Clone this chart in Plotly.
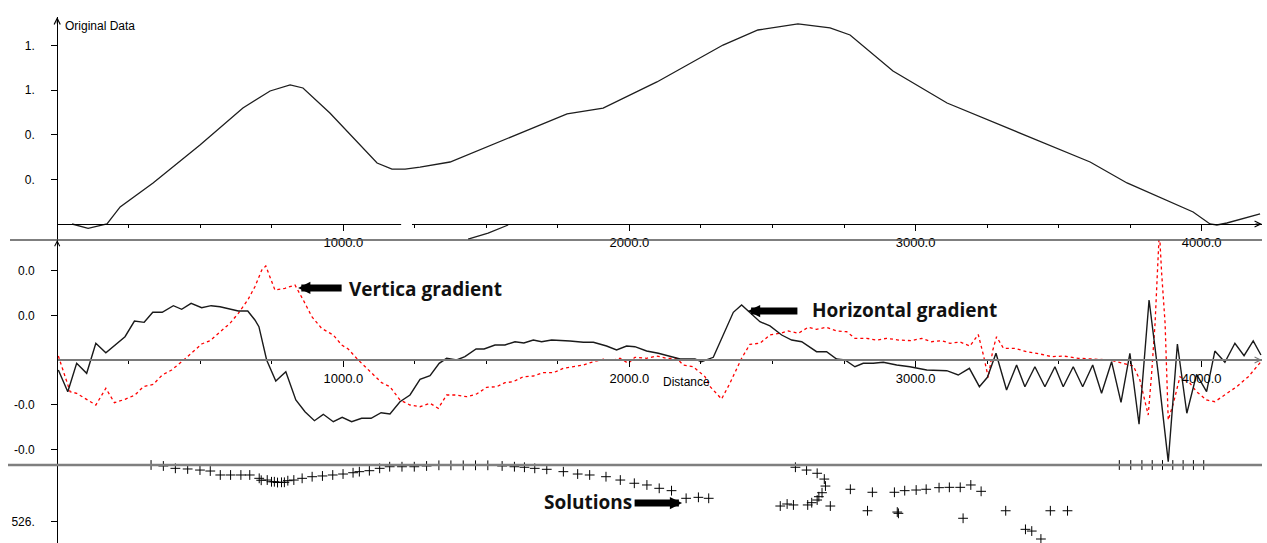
import plotly.graph_objects as go

# ---------------- data ----------------
# Original data profile (distance, value)
orig_x = [52, 108, 174, 220, 335, 499, 649, 744, 814, 859,
          953, 1118, 1170, 1216, 1268, 1373, 1782, 1908, 2096, 2327,
          2449, 2589, 2701, 2771, 2921, 3110, 3610, 3739, 3970, 4029,
          4053, 4088, 4204]
orig_y = [0.000, -0.039, 0.000, 0.153, 0.368, 0.709, 1.040, 1.193, 1.247, 1.220,
          0.996, 0.547, 0.493, 0.493, 0.511, 0.556, 0.987, 1.040, 1.274, 1.605,
          1.740, 1.794, 1.758, 1.695, 1.372, 1.085, 0.556, 0.368, 0.108, 0.000,
          -0.009, 0.009, 0.090]

# short fragment below the top axis
frag_x = [1436, 1506, 1576]
frag_y = [-0.135, -0.081, -0.009]

# Horizontal gradient (black solid)
hg_x = [4, 37, 68, 103, 135, 170, 237, 270, 304, 334,
        367, 406, 435, 468, 505, 538, 569, 633, 666, 691,
        705, 732, 764, 799, 834, 866, 899, 930, 965, 996,
        1029, 1064, 1097, 1132, 1163, 1198, 1233, 1268, 1303, 1335,
        1361, 1396, 1425, 1464, 1492, 1530, 1565, 1600, 1631, 1664,
        1693, 1728, 1792, 1839, 1874, 1920, 1955, 1990, 2019, 2060,
        2101, 2142, 2177, 2229, 2252, 2293, 2328, 2363, 2392, 2421,
        2456, 2491, 2532, 2567, 2602, 2654, 2689, 2724, 2753, 2788,
        2817, 2852, 2887, 2934, 2980, 3039, 3109, 3149, 3188, 3223,
        3251, 3281, 3318, 3353, 3382, 3417, 3452, 3487, 3516, 3551,
        3584, 3619, 3650, 3685, 3718, 3749, 3781, 3816, 3848, 3883,
        3915, 3948, 3982, 4017, 4046, 4081, 4116, 4148, 4180, 4207]
hg_y = [-0.00224, -0.00709, -0.00074, -0.00298, 0.00374, 0.00163, 0.00521, 0.00872, 0.00843, 0.01067,
        0.01067, 0.01215, 0.01134, 0.01268, 0.01170, 0.01215, 0.01192, 0.01096, 0.01096, 0.00895,
        0.00745, 0.00000, -0.00470, -0.00262, -0.00895, -0.01157, -0.01358, -0.01215, -0.01380, -0.01282,
        -0.01380, -0.01304, -0.01304, -0.01179, -0.01208, -0.00933, -0.00783, -0.00432, -0.00351, -0.00074,
        0.00038, 0.00000, 0.00074, 0.00246, 0.00246, 0.00336, 0.00336, 0.00409, 0.00380, 0.00447,
        0.00409, 0.00447, 0.00425, 0.00396, 0.00396, 0.00313, 0.00224, 0.00313, 0.00298, 0.00201,
        0.00150, 0.00074, 0.00022, 0.00022, -0.00038, 0.00060, 0.00559, 0.01067, 0.01230, 0.01067,
        0.00857, 0.00761, 0.00559, 0.00447, 0.00409, 0.00186, 0.00186, 0.00022, 0.00000, -0.00150,
        -0.00074, -0.00074, -0.00051, -0.00112, -0.00150, -0.00224, -0.00239, -0.00336, -0.00186, -0.00597,
        -0.00387, 0.00150, -0.00671, -0.00112, -0.00597, -0.00150, -0.00597, -0.00150, -0.00597, -0.00150,
        -0.00597, -0.00112, -0.00745, -0.00038, -0.00946, 0.00150, -0.01438, 0.01342, -0.00298, -0.02275,
        0.00358, -0.01192, -0.00320, -0.00709, 0.00201, -0.00051, 0.00374, 0.00096, 0.00425, 0.00112]

# Vertical gradient (red dotted)
vg_x = [4, 45, 68, 97, 135, 170, 200, 237, 272, 301,
        336, 367, 400, 435, 470, 505, 534, 569, 604, 633,
        666, 691, 715, 729, 761, 796, 831, 860, 890, 924,
        965, 994, 1017, 1052, 1093, 1134, 1163, 1198, 1233, 1268,
        1303, 1332, 1361, 1396, 1431, 1466, 1501, 1536, 1565, 1594,
        1629, 1664, 1699, 1734, 1769, 1804, 1839, 1874, 1909, 1944,
        1967, 1996, 2019, 2060, 2095, 2130, 2165, 2188, 2223, 2264,
        2282, 2322, 2351, 2392, 2421, 2456, 2491, 2526, 2555, 2590,
        2625, 2654, 2689, 2724, 2759, 2788, 2829, 2864, 2899, 2940,
        2986, 3021, 3056, 3091, 3120, 3155, 3190, 3219, 3237, 3254,
        3270, 3283, 3307, 3347, 3388, 3435, 3476, 3516, 3569, 3621,
        3679, 3726, 3761, 3784, 3802, 3813, 3825, 3837, 3845, 3852,
        3860, 3872, 3883, 3901, 3924, 3959, 3982, 4017, 4046, 4081,
        4122, 4163, 4207]
vg_y = [0.00089, -0.00709, -0.00745, -0.00857, -0.01007, -0.00633, -0.00955, -0.00879, -0.00783, -0.00597,
        -0.00544, -0.00336, -0.00224, -0.00038, 0.00150, 0.00358, 0.00432, 0.00633, 0.00821, 0.01045,
        0.01342, 0.01640, 0.02013, 0.02103, 0.01566, 0.01604, 0.01678, 0.01342, 0.00969, 0.00709,
        0.00559, 0.00336, 0.00246, 0.00000, -0.00262, -0.00508, -0.00597, -0.00895, -0.01007, -0.01045,
        -0.00969, -0.01081, -0.00783, -0.00783, -0.00821, -0.00761, -0.00611, -0.00597, -0.00508, -0.00485,
        -0.00374, -0.00358, -0.00284, -0.00284, -0.00186, -0.00150, -0.00112, -0.00038, 0.00016, 0.00000,
        0.00038, -0.00074, 0.00060, 0.00038, 0.00089, 0.00038, 0.00038, -0.00112, -0.00150, -0.00374,
        -0.00597, -0.00872, -0.00521, 0.00038, 0.00351, 0.00374, 0.00559, 0.00597, 0.00649, 0.00597,
        0.00732, 0.00687, 0.00732, 0.00649, 0.00633, 0.00485, 0.00485, 0.00447, 0.00485, 0.00447,
        0.00432, 0.00485, 0.00409, 0.00432, 0.00374, 0.00403, 0.00313, 0.00570, 0.00112, -0.00391,
        0.00224, 0.00521, 0.00262, 0.00262, 0.00186, 0.00134, 0.00074, 0.00089, 0.00038, 0.00022,
        0.00000, -0.00074, -0.00134, -0.00447, -0.00895, -0.01230, -0.00298, 0.00821, 0.01940, 0.02900,
        0.01940, 0.00821, -0.01342, -0.00969, -0.00374, -0.00521, -0.00709, -0.00895, -0.00933, -0.00783,
        -0.00597, -0.00374, -0.00038]

# Euler solutions (distance, depth)
sol_x = [328, 371, 413, 456, 499, 535, 570, 606, 642, 673,
         706, 713, 734, 749, 759, 770, 784, 794, 806, 827,
         856, 891, 927, 963, 999, 1034, 1056, 1091, 1127, 1162,
         1205, 1248, 1291, 1334, 1376, 1419, 1462, 1505, 1555, 1598,
         1633, 1669, 1711, 1769, 1819, 1861, 1918, 1968, 2017, 2061,
         2104, 2147, 2198, 2241, 2277,
         2580, 2619, 2656, 2681, 2685, 2673, 2662, 2656, 2637, 2623,
         2573, 2551, 2527, 2702,
         2772, 2849, 2926, 2962, 3002, 3037, 3082, 3118, 3156, 3193, 3229,
         2832, 2936, 2940, 3166, 3315, 3384, 3406, 3438, 3471, 3531,
         3712, 3752, 3791, 3827, 3863, 3899, 3935, 3971, 4007]
sol_d = [0, 9, 31, 37, 47, 56, 93, 93, 93, 93,
         124, 142, 140, 156, 156, 163, 161, 161, 146, 140,
         124, 109, 102, 93, 84, 72, 62, 53, 31, 16,
         16, 16, 9, 3, 3, 3, 3, 3, 9, 16,
         21, 31, 40, 62, 84, 93, 109, 140, 170, 186,
         217, 239, 310, 301, 310,
         21, 47, 77, 131, 196, 258, 295, 326, 351, 372,
         372, 363, 382, 382,
         226, 254, 254, 239, 233, 226, 211, 208, 208, 186, 245,
         426, 438, 450, 496, 426, 599, 615, 689, 426, 426,
         0, 0, 0, 0, 0, 0, 0, 0, 0]

# tick definitions
major_ticks = [1000, 2000, 3000, 4000]
major_labels = ["1000.0", "2000.0", "3000.0", "4000.0"]
minor_ticks = [250, 500, 750, 1250, 1500, 1750, 2250, 2500, 2750, 3250, 3500, 3750]
top_ticks = [0.4, 0.8, 1.2, 1.6]
top_labels = ["0.", "0.", "1.", "1."]
mid_ticks = [-0.02, -0.01, 0.01, 0.02]
mid_labels = ["-0.0", "-0.0", "0.0", "0.0"]
bot_ticks = [526]
bot_labels = ["526."]

# ---------------- layout geometry ----------------
W, H = 1267, 543
FONT = "Liberation Sans, Arial, sans-serif"
XMAX = 4210.7
xdom = [57.2 / W, 1262 / W]
top_dom = [1 - 240 / H, 1 - 17 / H]
mid_dom = [1 - 465 / H, 1 - 240 / H]
bot_dom = [0, 1 - 465 / H]
top_range = [-16 / 111.5, 207 / 111.5]
mid_range = [-105 / 4470, 120 / 4470]
bot_range = [78 * 9.31, 0]

fig = go.Figure()

fig.add_trace(go.Scatter(x=orig_x, y=orig_y, xaxis="x", yaxis="y", mode="lines",
                         line=dict(color="#1e1e1e", width=1.3), hoverinfo="skip"))
fig.add_trace(go.Scatter(x=frag_x, y=frag_y, xaxis="x", yaxis="y", mode="lines",
                         line=dict(color="#1e1e1e", width=1.3), hoverinfo="skip", cliponaxis=False))
fig.add_trace(go.Scatter(x=vg_x, y=vg_y, xaxis="x2", yaxis="y2", mode="lines",
                         line=dict(color="#ff0000", width=1.3, dash="3px,3px"), hoverinfo="skip"))
fig.add_trace(go.Scatter(x=hg_x, y=hg_y, xaxis="x2", yaxis="y2", mode="lines",
                         line=dict(color="#1a1a1a", width=1.4), hoverinfo="skip"))
fig.add_trace(go.Scatter(x=sol_x, y=sol_d, xaxis="x", yaxis="y3", mode="markers",
                         marker=dict(symbol="cross-thin", size=7, color="black",
                                     line=dict(color="black", width=1)),
                         cliponaxis=False, hoverinfo="skip"))

tickfont = dict(family=FONT, size=12, color="black")
xtickfont = dict(family=FONT, size=13, color="black")


def xax(pos, line_color, line_width, show_line=True, inside=False, overlay=None):
    d = dict(domain=xdom, range=[0, XMAX], anchor="free", position=pos,
             showgrid=False, zeroline=False, tickmode="array",
             tickvals=major_ticks, ticktext=major_labels,
             ticks="inside" if inside else "outside", ticklen=6, tickwidth=1,
             tickcolor="black",
             minor=dict(tickmode="array", tickvals=minor_ticks,
                        ticks="inside" if inside else "outside",
                        ticklen=3, tickwidth=1, tickcolor="black"),
             showline=show_line, linecolor=line_color, linewidth=line_width,
             showticklabels=not inside, tickfont=xtickfont, fixedrange=True)
    if overlay:
        d["overlaying"] = overlay
    return d


def yax(dom, rng, tv, tt):
    return dict(domain=dom, range=rng, anchor="free", position=xdom[0],
                showgrid=False, zeroline=False, showline=True, linecolor="black",
                linewidth=1.2, ticks="outside", ticklen=6, tickcolor="black",
                tickmode="array", tickvals=tv, ticktext=tt, tickfont=tickfont,
                ticklabelstandoff=14, fixedrange=True)


fig.update_layout(
    width=W, height=H, margin=dict(l=0, r=0, t=0, b=0),
    paper_bgcolor="white", plot_bgcolor="white", showlegend=False,
    font=dict(family=FONT, size=12, color="black"),
    xaxis=xax(1 - 224 / H, "black", 1.2),
    xaxis3=xax(1 - 224 / H, "black", 1, show_line=False, inside=True, overlay="x"),
    xaxis2=xax(1 - 360 / H, "#7a7a7a", 2),
    xaxis4=xax(1 - 360 / H, "#7a7a7a", 1, show_line=False, inside=True, overlay="x2"),
    yaxis=yax(top_dom, top_range, top_ticks, top_labels),
    yaxis2=yax(mid_dom, mid_range, mid_ticks, mid_labels),
    yaxis3=yax(bot_dom, bot_range, bot_ticks, bot_labels),
)

# panel separator lines and the small gap in the top axis
fig.add_shape(type="line", xref="paper", yref="paper", x0=10 / W, x1=1262 / W,
              y0=1 - 240 / H, y1=1 - 240 / H, line=dict(color="#555555", width=1.5))
fig.add_shape(type="line", xref="paper", yref="paper", x0=8 / W, x1=1262 / W,
              y0=1 - 465 / H, y1=1 - 465 / H, line=dict(color="#7f7f7f", width=2.5))
fig.add_shape(type="rect", xref="x", yref="y", x0=1202, x1=1240, y0=-0.012, y1=0.012,
              fillcolor="white", line=dict(width=0), layer="above")

ann = []
# axis arrowheads
ann.append(dict(x=0, y=top_range[1], xref="x", yref="y", ax=0, ay=8, text="",
                showarrow=True, arrowhead=5, arrowsize=1.2, arrowwidth=1, arrowcolor="black"))
ann.append(dict(x=0, y=mid_range[1], xref="x2", yref="y2", ax=0, ay=6, text="",
                showarrow=True, arrowhead=5, arrowsize=1, arrowwidth=1, arrowcolor="black"))
ann.append(dict(x=XMAX, y=0, xref="x", yref="y", ax=-8, ay=0, text="",
                showarrow=True, arrowhead=5, arrowsize=1.2, arrowwidth=1, arrowcolor="black"))
ann.append(dict(x=XMAX, y=0, xref="x2", yref="y2", ax=-8, ay=0, text="",
                showarrow=True, arrowhead=5, arrowsize=1.2, arrowwidth=1, arrowcolor="#7a7a7a"))
# axis titles
ann.append(dict(x=20, y=1.776, xref="x", yref="y", text="Original Data", showarrow=False,
                xanchor="left", yanchor="middle", font=dict(family=FONT, size=12, color="black")))
ann.append(dict(x=2198, y=-0.0049, xref="x2", yref="y2", text="Distance", showarrow=False,
                xanchor="center", yanchor="middle", font=dict(family=FONT, size=12, color="black")))
# bold callouts
bold = dict(family="Open Sans, Noto Sans, sans-serif", size=19, color="#111111", weight="bold")
ann.append(dict(x=1013, y=0.01588, xref="x2", yref="y2", text="<b>Vertica gradient</b>",
                showarrow=False, xanchor="left", yanchor="middle", font=bold))
ann.append(dict(x=2631, y=0.01119, xref="x2", yref="y2", text="<b>Horizontal gradient</b>",
                showarrow=False, xanchor="left", yanchor="middle", font=bold))
ann.append(dict(x=1694, y=344, xref="x", yref="y3", text="<b>Solutions</b>",
                showarrow=False, xanchor="left", yanchor="middle", font=bold))
# thick pointer arrows
ann.append(dict(x=842, y=0.01611, xref="x2", yref="y2", ax=45, ay=0, text="",
                showarrow=True, arrowhead=2, arrowsize=0.35, arrowwidth=7, arrowcolor="black"))
ann.append(dict(x=2414, y=0.01096, xref="x2", yref="y2", ax=51, ay=0, text="",
                showarrow=True, arrowhead=2, arrowsize=0.35, arrowwidth=7, arrowcolor="black"))
ann.append(dict(x=2184, y=354, xref="x", yref="y3", ax=-49, ay=0, text="",
                showarrow=True, arrowhead=2, arrowsize=0.35, arrowwidth=7, arrowcolor="black"))
fig.update_layout(annotations=ann)

fig.write_html("out.html", config={"displayModeBar": False, "staticPlot": True},
               post_script="document.body.style.margin='0';document.body.style.padding='0';")
